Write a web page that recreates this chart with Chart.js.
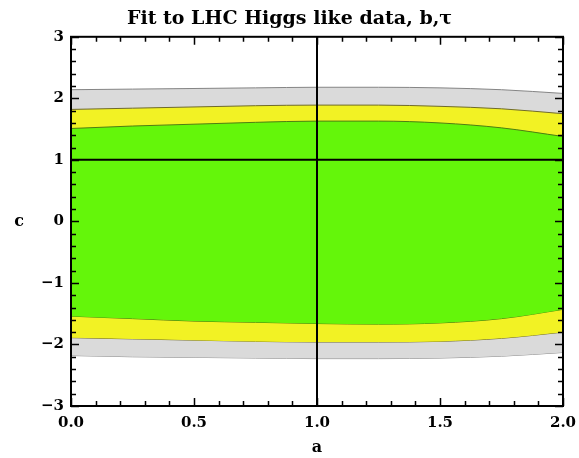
<!DOCTYPE html>
<html>
<head>
<meta charset="utf-8">
<script src="https://cdn.jsdelivr.net/npm/chart.js@4/dist/chart.umd.min.js"></script>
<style>
  html, body { margin: 0; padding: 0; background: #ffffff; }
  #wrap { width: 579px; height: 458px; }
</style>
</head>
<body>
<div id="wrap"><canvas id="fit" width="579" height="458"></canvas></div>
<script>
// Parameter a sampled along the horizontal axis
const aValues = [0, 0.25, 0.5, 0.75, 1, 1.25, 1.5, 1.75, 2];

// Allowed region boundaries in c (upper / lower edge of each band)
const greenUpper  = [1.51, 1.55, 1.58, 1.61, 1.63, 1.63, 1.60, 1.52, 1.38];
const greenLower  = [-1.54, -1.58, -1.62, -1.64, -1.66, -1.67, -1.65, -1.58, -1.43];
const yellowUpper = [1.82, 1.84, 1.86, 1.88, 1.89, 1.89, 1.87, 1.83, 1.75];
const yellowLower = [-1.89, -1.91, -1.93, -1.95, -1.96, -1.96, -1.95, -1.90, -1.80];
const grayUpper   = [2.14, 2.15, 2.16, 2.17, 2.18, 2.18, 2.17, 2.14, 2.08];
const grayLower   = [-2.18, -2.20, -2.21, -2.22, -2.23, -2.23, -2.22, -2.19, -2.13];

// Standard-model reference point (a, c)
const refA = 1;
const refC = 1;

// Axis ranges and tick values
const xRange = [0, 2];
const yRange = [-3, 3];
const xTickStep = 0.5;
const yTickStep = 1;

const SERIF = "'DejaVu Serif', 'Liberation Serif', serif";

function pts(ys) {
  return aValues.map((a, i) => ({ x: a, y: ys[i] }));
}

function band(ys, fillColor, edgeColor, fill) {
  return {
    data: pts(ys),
    borderColor: edgeColor,
    borderWidth: 1,
    backgroundColor: fillColor,
    fill: fill,
    pointRadius: 0,
    tension: 0.4,
    cubicInterpolationMode: 'monotone'
  };
}

const GREEN = '#64f60a';
const YELLOW = '#f2f224';
const GRAY = '#dadada';

const datasets = [
  band(greenUpper, GREEN, '#4f7d12', '+1'),
  band(greenLower, GREEN, '#4f7d12', false),
  band(yellowUpper, YELLOW, '#6f6a2a', '+1'),
  band(yellowLower, YELLOW, '#6f6a2a', false),
  band(grayUpper, GRAY, '#858585', '+1'),
  band(grayLower, GRAY, '#858585', false),
  {
    data: [{ x: refA, y: yRange[0] }, { x: refA, y: yRange[1] }],
    borderColor: '#000', borderWidth: 2, pointRadius: 0, fill: false, order: -1
  },
  {
    data: [{ x: xRange[0], y: refC }, { x: xRange[1], y: refC }],
    borderColor: '#000', borderWidth: 2, pointRadius: 0, fill: false, order: -1
  }
];

// Frame with inward major/minor ticks on all four sides, plus the unrotated "c" label
const frameTicks = {
  id: 'frameTicks',
  afterDatasetsDraw(chart) {
    const { ctx, chartArea: ca, scales: { x, y } } = chart;
    ctx.save();
    ctx.strokeStyle = '#000';
    ctx.lineWidth = 1.5;
    ctx.beginPath();
    for (let i = 0; i <= 20; i++) {
      const v = xRange[0] + i * 0.1;
      const px = Math.round(x.getPixelForValue(v)) + 0.5;
      const len = (i % 5 === 0) ? 8 : 5;
      ctx.moveTo(px, ca.bottom); ctx.lineTo(px, ca.bottom - len);
      ctx.moveTo(px, ca.top); ctx.lineTo(px, ca.top + len);
    }
    for (let i = 0; i <= 30; i++) {
      const v = yRange[0] + i * 0.2;
      const py = Math.round(y.getPixelForValue(v)) + 0.5;
      const len = (i % 5 === 0) ? 8 : 5;
      ctx.moveTo(ca.left, py); ctx.lineTo(ca.left + len, py);
      ctx.moveTo(ca.right, py); ctx.lineTo(ca.right - len, py);
    }
    ctx.stroke();
    ctx.lineWidth = 2;
    ctx.strokeRect(ca.left, ca.top, ca.right - ca.left, ca.bottom - ca.top);

    ctx.fillStyle = '#000';
    ctx.font = 'bold 16px ' + SERIF;
    ctx.textAlign = 'center';
    ctx.textBaseline = 'middle';
    ctx.fillText('c', 19, (ca.top + ca.bottom) / 2);
    ctx.restore();
  }
};

new Chart(document.getElementById('fit'), {
  type: 'line',
  data: { datasets },
  plugins: [frameTicks],
  options: {
    responsive: false,
    animation: false,
    devicePixelRatio: 1,
    layout: { padding: 0 },
    plugins: {
      legend: { display: false },
      tooltip: { enabled: false },
      title: {
        display: true,
        text: 'Fit to LHC Higgs like data, b,\u03c4',
        color: '#000',
        font: { family: SERIF, size: 19, weight: 'bold', lineHeight: 1.2 },
        padding: { top: 8, bottom: 6 }
      },
      filler: { propagate: false }
    },
    scales: {
      x: {
        type: 'linear',
        min: xRange[0], max: xRange[1],
        grid: { display: false, drawTicks: false },
        border: { display: false },
        ticks: {
          stepSize: xTickStep,
          color: '#000',
          padding: 8,
          font: { family: SERIF, size: 15, weight: 'bold' },
          callback: v => Number(v).toFixed(1)
        },
        title: {
          display: true, text: 'a', color: '#000',
          font: { family: SERIF, size: 16, weight: 'bold', lineHeight: 1 },
          padding: { top: 0, bottom: 2 }
        },
        afterFit: s => { s.height = 52; s.paddingRight = 16; s.paddingLeft = 0; }
      },
      y: {
        type: 'linear',
        min: yRange[0], max: yRange[1],
        grid: { display: false, drawTicks: false },
        border: { display: false },
        ticks: {
          stepSize: yTickStep,
          color: '#000',
          padding: 7,
          font: { family: SERIF, size: 15, weight: 'bold' },
          callback: v => (v < 0 ? '\u2212' + (-v) : String(v))
        },
        afterFit: s => { s.width = 71; }
      }
    }
  }
});
</script>
</body>
</html>
